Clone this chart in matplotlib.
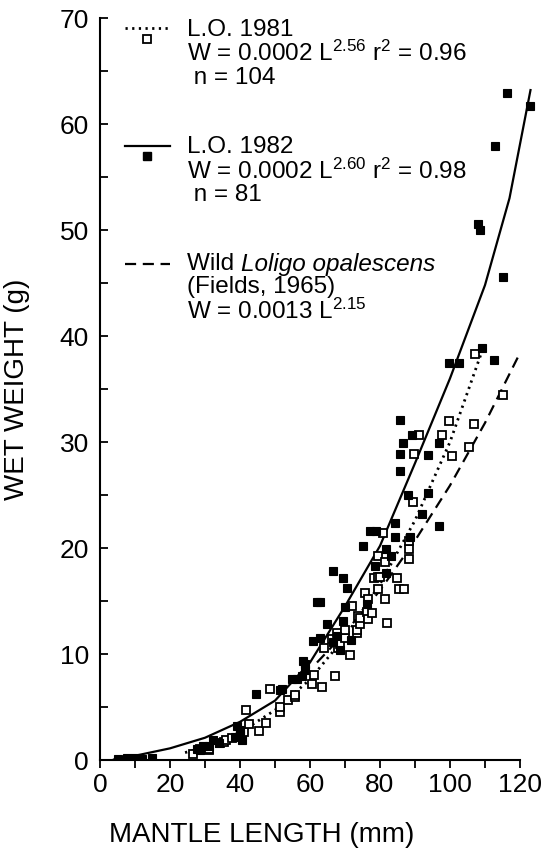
import matplotlib.pyplot as plt
from matplotlib.lines import Line2D
from matplotlib.ticker import MultipleLocator

plt.rcParams['font.family'] = ['Liberation Sans', 'DejaVu Sans']
plt.rcParams['mathtext.default'] = 'regular'

# L.O. 1981 (open squares), mantle length mm / wet weight g
open_x = [26.7, 28.5, 31.0, 31.2, 34.3, 35.5, 36.0, 37.6, 41.1, 41.7, 42.5, 45.5,
          47.4, 48.5, 51.4, 51.4, 53.8, 55.7, 55.7, 60.5, 61.0, 63.3, 64.0, 66.2,
          67.1, 67.6, 68.1, 68.6, 70.0, 70.0, 71.4, 71.9, 73.3, 73.3, 73.8, 74.3,
          74.3, 75.6, 76.4, 76.7, 76.7, 77.6, 78.3, 79.5, 79.5, 79.5, 80.0, 80.8,
          81.4, 81.4, 81.9, 84.8, 85.5, 86.8, 88.4, 88.4, 88.4, 89.5, 89.7, 91.0,
          97.7, 99.8, 100.5, 105.5, 106.9, 107.1, 115.0]
open_y = [0.6, 1.0, 0.9, 1.0, 1.6, 1.7, 1.9, 2.1, 2.6, 4.7, 3.4, 2.7,
          3.5, 6.7, 4.5, 5.0, 5.7, 5.9, 6.1, 7.2, 8.0, 6.9, 10.6, 11.4,
          7.9, 12.0, 10.6, 10.9, 11.5, 12.3, 9.9, 14.5, 12.0, 12.3, 13.6, 12.8,
          13.4, 15.8, 14.0, 13.3, 15.2, 13.9, 17.2, 16.1, 17.3, 19.2, 17.3, 21.4,
          15.2, 18.7, 12.9, 17.2, 16.1, 16.1, 19.0, 19.9, 20.7, 24.3, 28.9, 30.7,
          30.7, 32.0, 28.7, 29.5, 31.7, 38.3, 34.4]

# L.O. 1982 (filled squares)
fill_x = [5.2, 7.6, 10.0, 11.9, 14.8, 27.6, 28.6, 29.5, 31.0, 32.4, 34.0, 38.6,
          39.0, 40.0, 40.0, 40.5, 44.7, 51.4, 51.9, 54.8, 56.2, 57.6, 58.1, 58.6,
          58.6, 60.8, 61.9, 62.9, 62.9, 64.8, 66.7, 66.7, 67.6, 68.6, 69.5, 69.5,
          70.0, 70.7, 71.6, 75.2, 76.2, 77.1, 78.9, 78.6, 81.6, 81.7, 83.1, 84.2,
          84.3, 85.7, 85.7, 85.7, 86.7, 88.1, 88.6, 89.0, 91.9, 93.8, 93.8, 96.9,
          96.9, 99.8, 102.7, 109.0, 112.6, 115.2, 107.9, 108.6, 112.9, 116.2, 122.9]
fill_y = [0.1, 0.15, 0.15, 0.1, 0.15, 1.0, 0.9, 1.3, 1.3, 1.9, 1.6, 2.2,
          3.2, 2.5, 2.8, 1.9, 6.2, 6.6, 6.7, 7.6, 7.6, 7.9, 9.3, 8.5,
          9.1, 11.2, 14.9, 11.5, 14.9, 12.8, 11.1, 17.8, 11.7, 10.4, 13.1, 17.2,
          14.4, 16.2, 11.3, 20.2, 14.7, 21.6, 21.6, 18.3, 19.9, 17.6, 19.2, 22.4,
          21.0, 27.3, 28.9, 32.1, 29.9, 25.0, 21.0, 30.7, 23.2, 25.2, 28.8, 22.1,
          29.9, 37.5, 37.5, 38.9, 37.7, 45.6, 50.6, 50.0, 57.9, 62.9, 61.7]

# fitted curves
fit81_x = [24.3, 30, 40, 50, 60, 70, 80, 90, 100, 109.5]
fit81_y = [0.7, 1.2, 2.6, 4.7, 7.6, 11.6, 16.6, 22.6, 30.0, 38.9]
fit82_x = [4, 10, 20, 30, 40, 50, 60, 70, 80, 90, 100, 110, 117, 123]
fit82_y = [0.05, 0.4, 1.1, 2.1, 3.6, 5.6, 9.2, 14.5, 20.2, 28.0, 36.0, 44.8, 53.0, 63.2]
wild_x = [62, 70, 80, 90, 100, 110, 120]
wild_y = [9.2, 12.0, 16.0, 20.7, 25.9, 31.8, 38.4]

fig = plt.figure(figsize=(5.45, 8.56), dpi=100)
ax = fig.add_axes([100 / 545, 96 / 856, 437.5 / 545, 742 / 856])

ax.plot(fit82_x, fit82_y, color='black', lw=1.6, zorder=3)
ax.plot(fit81_x, fit81_y, color='black', lw=2.0, linestyle=(0, (0.8, 1.6)), zorder=3)
ax.plot(wild_x, wild_y, color='black', lw=1.6, linestyle=(0, (5, 3)), zorder=3)

ax.plot(open_x, open_y, 's', ms=5.3, mfc='white', mec='black', mew=1.3, ls='none', zorder=4)
ax.plot(fill_x, fill_y, 's', ms=5.3, mfc='black', mec='black', mew=0.8, ls='none', zorder=4)

ax.set_xlim(0, 125)
ax.set_ylim(0, 70)
ax.spines['top'].set_visible(False)
ax.spines['right'].set_visible(False)
ax.spines['bottom'].set_bounds(0, 120)
for s in ('left', 'bottom'):
    ax.spines[s].set_linewidth(1.5)

ax.xaxis.set_major_locator(MultipleLocator(20))
ax.xaxis.set_minor_locator(MultipleLocator(10))
ax.yaxis.set_major_locator(MultipleLocator(10))
ax.yaxis.set_minor_locator(MultipleLocator(5))
ax.set_xticks([0, 20, 40, 60, 80, 100, 120])
ax.tick_params(axis='x', which='both', direction='out', length=6, width=1.3, labelsize=19, pad=3)
ax.tick_params(axis='y', which='both', direction='in', length=6, width=1.3, labelsize=19, pad=8)

ax.set_xlabel('MANTLE LENGTH (mm)', fontsize=20)
ax.xaxis.set_label_coords(0.37, -0.083)
ax.set_ylabel('WET WEIGHT (g)', fontsize=20)
ax.yaxis.set_label_coords(-0.16, 0.5)

# legend block
fs = 17.5
tx = 0.199
legend_rows = [
    (0.984, 'L.O. 1981'),
    (0.952, 'W = 0.0002 L$^{2.56}$ r$^{2}$ = 0.96'),
    (0.919, ' n = 104'),
    (0.826, 'L.O. 1982'),
    (0.794, 'W = 0.0002 L$^{2.60}$ r$^{2}$ = 0.98'),
    (0.762, ' n = 81'),
    (0.637, '(Fields, 1965)'),
    (0.605, 'W = 0.0013 L$^{2.15}$'),
]
for yy, txt in legend_rows:
    ax.text(tx, yy, txt, transform=ax.transAxes, fontsize=fs, va='center', ha='left')

wild = ax.text(tx, 0.668, 'Wild ', transform=ax.transAxes, fontsize=fs, va='center', ha='left')
ax.annotate('Loligo opalescens', xy=(1, 0.5), xycoords=wild, fontsize=fs,
            fontstyle='italic', va='center', ha='left')

ax.add_line(Line2D([0.057, 0.16], [0.986, 0.986], transform=ax.transAxes, color='black',
                   lw=2.0, linestyle=(0, (0.8, 1.6))))
ax.add_line(Line2D([0.108], [0.972], transform=ax.transAxes, marker='s', ms=5.3,
                   mfc='white', mec='black', mew=1.3))
ax.add_line(Line2D([0.057, 0.16], [0.828, 0.828], transform=ax.transAxes, color='black', lw=1.6))
ax.add_line(Line2D([0.108], [0.814], transform=ax.transAxes, marker='s', ms=5.3,
                   mfc='black', mec='black'))
ax.add_line(Line2D([0.057, 0.16], [0.669, 0.669], transform=ax.transAxes, color='black',
                   lw=1.6, linestyle=(0, (5, 3))))

fig.savefig('out.png', dpi=100)
